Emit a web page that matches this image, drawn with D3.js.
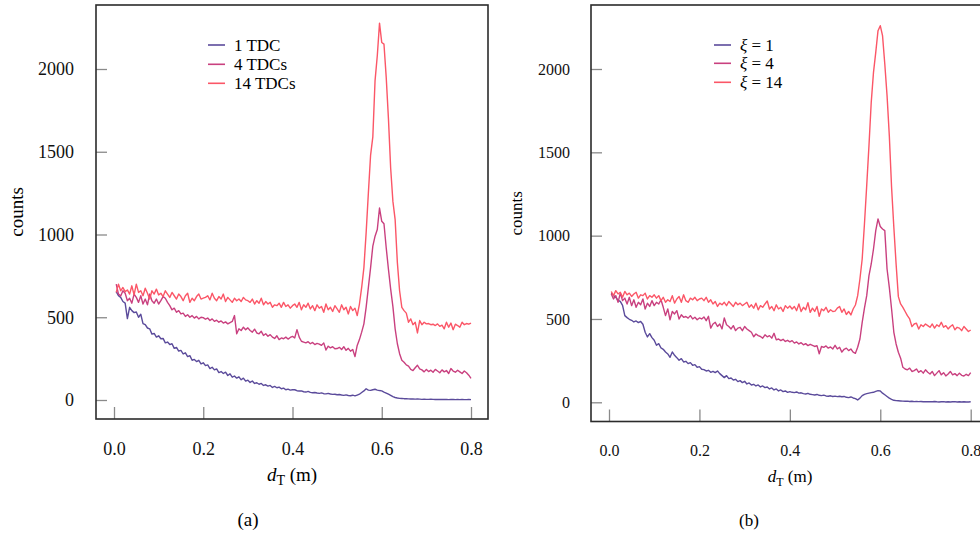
<!DOCTYPE html>
<html>
<head>
<meta charset="utf-8">
<script src="https://cdn.jsdelivr.net/npm/d3@7"></script>
<style>
  body { margin: 0; background: #fff; }
  svg { display: block; font-family: "Liberation Serif", "Times New Roman", serif; }
</style>
</head>
<body>
<div id="chart"></div>
<script>
// bin width of the histograms (m), bins centred at 0.005 ... 0.800
var binStep = 0.005;
var xTicks = [0.0, 0.2, 0.4, 0.6, 0.8];
var yTicks = [0, 500, 1000, 1500, 2000];

// panel (a)
var labelsA = ["1 TDC", "4 TDCs", "14 TDCs"];
var tdc1 = [
  655, 630, 620, 595, 585, 492, 560, 540, 528, 532, 500, 518, 462, 455, 435, 430, 398, 402, 380, 388,
  370, 372, 345, 350, 335, 340, 312, 318, 296, 300, 278, 285, 262, 268, 240, 245, 232, 240, 218, 225,
  208, 212, 190, 198, 182, 188, 166, 172, 160, 168, 148, 158, 138, 145, 132, 140, 122, 132, 114, 120,
  106, 115, 100, 104, 95, 100, 88, 92, 84, 88, 76, 82, 74, 78, 68, 72, 62, 66, 60, 62,
  62, 56, 54, 55, 50, 48, 52, 46, 44, 45, 42, 40, 43, 38, 37, 40, 36, 34, 35, 32,
  33, 30, 28, 31, 27, 26, 29, 25, 30, 35, 45, 55, 68, 60, 58, 62, 65, 60, 57, 55,
  48, 42, 35, 28, 20, 15, 12, 10, 9, 8, 8, 7, 6, 6, 5, 6, 5, 4, 5, 4,
  4, 5, 4, 3, 4, 3, 3, 4, 3, 2, 3, 3, 2, 3, 2, 3, 2, 2, 3, 2
];
var tdc4 = [
  700, 640, 628, 660, 645, 600, 615, 585, 640, 620, 590, 630, 580, 610, 575, 640, 600, 585, 610, 580,
  600, 625, 615, 590, 570, 545, 555, 530, 540, 520, 525, 505, 515, 500, 510, 495, 505, 490, 500, 498,
  488, 495, 480, 490, 475, 482, 470, 478, 465, 472, 460, 468, 475, 510, 400, 430, 420, 440, 425, 436,
  420, 410, 428, 405, 400, 415, 390, 400, 385, 395, 380, 372, 388, 365, 375, 370, 380, 368, 378, 384,
  375, 425, 380, 355, 350, 345, 352, 340, 348, 335, 342, 338, 330, 345, 302, 325, 315, 322, 310, 311,
  318, 305, 322, 300, 312, 295, 305, 262, 330, 365, 410, 460, 560, 680, 800, 930, 990, 1030, 1160, 1080,
  1065, 920, 790, 670, 564, 430, 340, 280, 240, 228, 212, 205, 185, 178, 195, 210, 188, 182, 170, 185,
  172, 180, 168, 185, 175, 165, 182, 170, 178, 160, 190, 175, 168, 180, 170, 160, 175, 165, 150, 131
];
var tdc14 = [
  650, 700, 660, 680, 655, 665, 640, 690, 635, 700, 650, 660, 630, 675, 645, 610, 660, 640, 670, 635,
  645, 625, 660, 640, 620, 650, 630, 610, 640, 625, 600, 630, 645, 590, 615, 600, 625, 640, 610, 615,
  620, 630, 605, 645, 615, 600, 625, 610, 640, 595, 620, 605, 590, 615, 600, 610, 595, 620, 605, 600,
  590, 610, 580, 600, 585, 615, 575, 595, 580, 590, 560, 575, 570, 585, 560, 590, 565, 575, 555, 570,
  580, 560, 590, 545, 575, 560, 585, 550, 570, 540, 575, 555, 565, 530, 580, 545, 560, 535, 570, 550,
  530, 575, 545, 560, 520, 565, 540, 555, 510, 580, 680, 800, 1010, 1250, 1480, 1590, 1930, 2080, 2277, 2160,
  2150, 1950, 1700, 1400, 1200, 1090, 830, 660, 560, 540, 525, 470, 490, 455, 470, 405, 480, 455, 470, 460,
  462, 455, 458, 450, 460, 445, 452, 430, 470, 440, 465, 425, 458, 450, 440, 470, 455, 462, 458, 465
];

// panel (b)
var labelsB = ["1", "4", "14"];
var xi1 = [
  655, 640, 630, 612, 605, 582, 520, 508, 498, 492, 482, 488, 478, 485, 468, 420, 392, 412, 388, 372,
  342, 352, 326, 318, 302, 290, 270, 302, 282, 268, 252, 262, 242, 246, 232, 238, 222, 226, 210, 214,
  198, 196, 188, 192, 180, 186, 178, 188, 172, 160, 148, 160, 142, 146, 134, 138, 124, 130, 118, 126,
  110, 116, 104, 108, 98, 104, 92, 98, 88, 92, 80, 86, 74, 80, 68, 74, 64, 68, 60, 64,
  60, 58, 62, 55, 57, 52, 50, 54, 48, 46, 44, 47, 42, 40, 43, 38, 36, 39, 35, 37,
  34, 36, 33, 35, 30, 28, 32, 26, 22, 14, 25, 40, 48, 52, 55, 58, 60, 65, 70, 68,
  55, 45, 35, 25, 18, 12, 10, 9, 8, 7, 6, 7, 5, 6, 4, 5, 4, 5, 3, 4,
  3, 4, 3, 5, 3, 2, 3, 4, 2, 3, 2, 3, 4, 2, 3, 2, 3, 2, 2, 3
];
var xi4 = [
  650, 620, 640, 600, 655, 610, 625, 590, 630, 580, 615, 570, 600, 585, 620, 560, 595, 575, 610, 580,
  600, 590, 615, 570, 520, 560, 495, 545, 530, 550, 500, 525, 510, 515, 505, 520, 500, 510, 495, 506,
  500, 512, 490, 516, 445, 470, 480, 455, 470, 440, 506, 465, 455, 440, 460, 430, 445, 450, 430, 455,
  440, 430, 420, 393, 410, 400, 395, 385, 405, 393, 400, 385, 414, 375, 380, 370, 378, 365, 372, 363,
  370, 355, 362, 350, 358, 345, 352, 340, 348, 342, 335, 340, 291, 335, 330, 338, 325, 332, 320, 342,
  320, 330, 301, 318, 325, 310, 320, 301, 294, 330, 380, 480, 565, 640, 760, 830, 920, 1030, 1100, 1055,
  1040, 1030, 800, 690, 560, 420, 350, 300, 265, 210, 200, 195, 205, 185, 190, 200, 180, 190, 175, 195,
  180, 170, 185, 160, 175, 190, 165, 178, 158, 170, 185, 165, 172, 160, 175, 162, 158, 168, 160, 178
];
var xi14 = [
  665, 640, 670, 650, 660, 630, 665, 645, 655, 635, 650, 660, 625, 645, 640, 655, 620, 640, 630, 645,
  625, 640, 610, 630, 600, 615, 605, 640, 595, 620, 635, 600, 645, 610, 600, 625, 615, 630, 610, 620,
  625, 610, 630, 600, 615, 590, 605, 575, 595, 585, 600, 580, 605, 590, 575, 600, 585, 595, 580, 590,
  600, 570, 585, 565, 595, 555, 580, 570, 590, 608, 560, 575, 550, 585, 560, 570, 545, 580, 565, 578,
  560, 575, 550, 590, 545, 570, 555, 598, 540, 565, 545, 575, 516, 560, 550, 570, 540, 555, 545, 547,
  565, 575, 540, 560, 527, 545, 524, 560, 584, 640, 740, 860, 1070, 1300, 1540, 1800, 1980, 2100, 2230, 2260,
  2200, 2030, 1840, 1600, 1290, 1050, 830, 634, 590, 570, 545, 520, 500, 454, 470, 475, 440, 465, 455, 470,
  460, 450, 470, 445, 465, 455, 480, 450, 460, 440, 455, 465, 435, 450, 445, 430, 455, 440, 425, 434
];

var colors = ["#5b4b9b", "#c9407f", "#fb5667"];

var svg = d3.select("#chart").append("svg")
  .attr("width", 980)
  .attr("height", 536);

function drawPanel(p) {
  var g = svg.append("g");

  // pixel positions of 0 / 0.8 and of 0 / 2000 counts
  var x = d3.scaleLinear().domain([0, 0.8]).range([p.x0, p.x8]);
  var y = d3.scaleLinear().domain([0, 2000]).range([p.y0, p.y2000]);

  var line = d3.line()
    .x(function(d, i) { return x((i + 1) * binStep); })
    .y(function(d) { return y(d); });

  g.append("defs").append("clipPath").attr("id", "clip" + p.name)
    .append("rect")
    .attr("x", p.left).attr("y", p.top)
    .attr("width", p.right - p.left).attr("height", p.bottom - p.top);

  // lines
  for (let i = 0; i < p.series.length; i++) {
    g.append("path")
      .attr("d", line(p.series[i]))
      .attr("clip-path", "url(#clip" + p.name + ")")
      .attr("fill", "none")
      .attr("stroke", colors[i])
      .attr("stroke-width", 1.4)
      .attr("stroke-linejoin", "round");
  }

  // axes, ticks point inwards
  var yAxis = d3.axisLeft(y).tickValues(yTicks).tickFormat(d3.format("d"))
    .tickSizeInner(-11).tickSizeOuter(0).tickPadding(p.yPad);
  var xAxis = d3.axisBottom(x).tickValues(xTicks).tickFormat(d3.format(".1f"))
    .tickSizeInner(-12).tickSizeOuter(0).tickPadding(p.xPad);

  var ya = g.append("g").attr("transform", "translate(" + p.left + ",0)").call(yAxis);
  var xa = g.append("g").attr("transform", "translate(0," + p.bottom + ")").call(xAxis);
  [ya, xa].forEach(function(a) {
    a.select(".domain").remove();
    a.selectAll(".tick line").attr("stroke", "#8a8a8a").attr("stroke-width", 1.3);
    a.selectAll(".tick text")
      .attr("fill", "#111")
      .style("font-family", "Liberation Serif, serif")
      .style("font-size", p.fs + "px");
  });

  // frame
  g.append("rect")
    .attr("x", p.left).attr("y", p.top)
    .attr("width", p.right - p.left).attr("height", p.bottom - p.top)
    .attr("fill", "none")
    .attr("stroke", "#2b2b2b")
    .attr("stroke-width", 1.6);

  // y label
  g.append("text")
    .attr("transform", "translate(" + p.ylabX + "," + ((p.top + p.bottom) / 2) + ") rotate(-90)")
    .attr("text-anchor", "middle")
    .attr("dy", "0.3em")
    .style("font-size", (p.fs + 1) + "px")
    .text("counts");

  // x label: d_T (m)
  var xl = g.append("text")
    .attr("x", p.xlabX).attr("y", p.xlabY)
    .attr("text-anchor", "middle")
    .style("font-size", (p.fs + 1) + "px");
  xl.append("tspan").attr("font-style", "italic").text("d");
  xl.append("tspan").attr("dy", 4).style("font-size", (p.fs - 4) + "px").text("T");
  xl.append("tspan").attr("dy", -4).text(" (m)");

  // panel letter
  g.append("text")
    .attr("x", p.capX).attr("y", 526)
    .attr("text-anchor", "middle")
    .style("font-size", (p.fs + 1) + "px")
    .text(p.caption);

  // legend
  for (let i = 0; i < p.labels.length; i++) {
    var ly = p.legY[i];
    g.append("line")
      .attr("x1", p.legX).attr("x2", p.legX + 17)
      .attr("y1", ly).attr("y2", ly)
      .attr("stroke", colors[i]).attr("stroke-width", 1.6);
    var t = g.append("text")
      .attr("x", p.legX + 26).attr("y", ly)
      .attr("dy", "0.33em")
      .style("font-size", p.legFs + "px");
    if (p.name == "b") {
      t.append("tspan").attr("font-style", "italic").text("ξ");
      t.append("tspan").text(" = " + p.labels[i]);
    } else {
      t.text(p.labels[i]);
    }
  }
}

drawPanel({
  name: "a", caption: "(a)", labels: labelsA, series: [tdc1, tdc4, tdc14],
  left: 96, right: 488, top: 5, bottom: 419,
  x0: 114, x8: 471, y0: 400, y2000: 69,
  fs: 18, legFs: 17, yPad: 22, xPad: 23,
  ylabX: 17, xlabX: 292, xlabY: 481, capX: 248,
  legX: 208, legY: [45, 64.3, 83.3]
});

drawPanel({
  name: "b", caption: "(b)", labels: labelsB, series: [xi1, xi4, xi14],
  left: 591, right: 986, top: 5, bottom: 421.5,
  x0: 609, x8: 970.7, y0: 402.3, y2000: 69,
  fs: 16, legFs: 17, yPad: 21, xPad: 23,
  ylabX: 517, xlabX: 790, xlabY: 482, capX: 749,
  legX: 714, legY: [45, 63.3, 82.3]
});
</script>
</body>
</html>
